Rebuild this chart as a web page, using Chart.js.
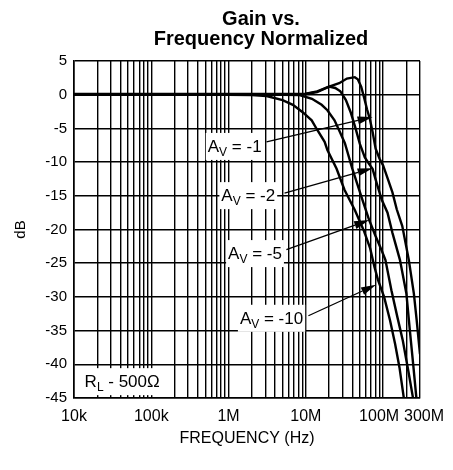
<!DOCTYPE html>
<html>
<head>
<meta charset="utf-8">
<script src="https://cdn.jsdelivr.net/npm/chart.js@4.4.1/dist/chart.umd.min.js"></script>
<style>
  html, body { margin: 0; padding: 0; background: #fff; }
</style>
</head>
<body>
<canvas id="chart" width="453" height="470"></canvas>
<script>
// gain curves (Hz, dB)
const av1Freq = [1e4, 1e6, 5e6, 10e6, 14e6, 20e6, 27e6, 34e6, 43e6, 47e6, 52e6, 57e6, 62e6, 67e6, 73e6, 80e6, 90e6, 100e6, 115e6, 132e6, 150e6, 177e6, 215e6, 250e6, 272e6, 300e6];
const av1Db = [0.1, 0.1, 0.1, 0.15, 0.5, 1.2, 1.7, 2.4, 2.6, 2.3, 1.2, -0.5, -2.2, -3.5, -5.5, -8.0, -9.5, -10.5, -12.5, -14.5, -17.0, -19.5, -24.5, -29.5, -33.5, -38.5];

const av2Freq = [1e4, 1e6, 5e6, 10e6, 14e6, 20e6, 24e6, 28e6, 33e6, 38e6, 44e6, 50e6, 58e6, 66e6, 73e6, 82e6, 96e6, 114e6, 132e6, 165e6, 200e6, 222e6, 245e6, 272e6];
const av2Db = [0, 0, 0, 0.1, 0.4, 1.2, 1.0, 0.5, -0.8, -2.6, -5.0, -7.3, -9.3, -10.3, -11.0, -13.0, -15.6, -17.5, -20.5, -24.5, -29.5, -35.0, -40.0, -45.5];

const av5Freq = [1e4, 1e6, 5e6, 8.3e6, 12e6, 16e6, 19e6, 23.5e6, 27.5e6, 32e6, 40e6, 54e6, 66e6, 80e6, 95e6, 107e6, 128e6, 153e6, 180e6, 212e6, 248e6];
const av5Db = [0, 0, 0, -0.05, -0.6, -1.5, -2.3, -3.8, -5.5, -7.2, -11.0, -15.6, -18.6, -21.0, -23.0, -24.5, -29.0, -33.0, -36.5, -41.0, -45.5];

const av10Freq = [1e4, 1e6, 2e6, 3.1e6, 5e6, 6.8e6, 9.1e6, 11.9e6, 14e6, 17.5e6, 19e6, 25e6, 31.6e6, 43e6, 56e6, 68e6, 77e6, 86e6, 103e6, 123e6, 143e6, 163e6, 188e6];
const av10Db = [0, 0, -0.05, -0.2, -0.8, -1.5, -2.6, -3.8, -5.2, -7.0, -8.2, -11.0, -14.1, -17.1, -20.1, -22.8, -25.5, -27.5, -30.0, -33.5, -37.0, -40.5, -45.5];

// axis ticks (spaces nudge the two crowded labels apart, as in the original)
const xTickValues = [1e4, 1e5, 1e6, 1e7, 1e8, 3e8];
const xTickLabels = ["10k", "100k", "1M", "10M", "100M\u2002", "\u2002300M"];

// curve labels and arrows
const noteGain = ["-1", "-2", "-5", "-10"];
const noteFreq = [1.2e6, 1.8e6, 2.2e6, 3.6e6];
const noteDb = [-7.6, -14.9, -23.5, -33.1];
const arrowFromFreq = [3.1e6, 5.3e6, 5.6e6, 10.8e6];
const arrowFromDb = [-7.0, -14.6, -23.0, -32.8];
const arrowToFreq = [73e6, 73e6, 66e6, 81e6];
const arrowToDb = [-3.3, -10.9, -18.6, -28.2];

const FONT = "'Liberation Sans', Arial, sans-serif";

const toPoints = (fs, ds) => fs.map((f, i) => ({ x: f, y: ds[i] }));

// all 1..9 x 10^n grid positions
const logGrid = [];
for (let e = 4; e <= 8; e++) {
    for (let m = 1; m <= 9; m++) {
        const v = m * Math.pow(10, e);
        if (v <= 3e8) logGrid.push(v);
    }
}

function boxLabel(ctx, parts, cx, cy, pad) {
    let w = 0;
    parts.forEach((p) => {
        ctx.font = (p.sub ? "12px " : "17px ") + FONT;
        p.w = ctx.measureText(p.t).width;
        w += p.w;
    });
    ctx.fillStyle = "#fff";
    ctx.fillRect(cx - w / 2 - pad, cy - 13, w + pad * 2, 27);
    ctx.fillStyle = "#000";
    ctx.textBaseline = "alphabetic";
    ctx.textAlign = "left";
    let x0 = cx - w / 2;
    parts.forEach((p) => {
        ctx.font = (p.sub ? "12px " : "17px ") + FONT;
        ctx.fillText(p.t, x0, cy + (p.sub ? 10 : 6));
        x0 += p.w;
    });
}

function arrow(ctx, x1, y1, x2, y2) {
    const a = Math.atan2(y2 - y1, x2 - x1);
    const len = 15, half = 4;
    ctx.strokeStyle = "#000";
    ctx.lineWidth = 1.3;
    ctx.beginPath();
    ctx.moveTo(x1, y1);
    ctx.lineTo(x2 - len * Math.cos(a), y2 - len * Math.sin(a));
    ctx.stroke();
    ctx.fillStyle = "#000";
    ctx.beginPath();
    ctx.moveTo(x2, y2);
    ctx.lineTo(x2 - len * Math.cos(a) + half * Math.sin(a), y2 - len * Math.sin(a) - half * Math.cos(a));
    ctx.lineTo(x2 - len * Math.cos(a) - half * Math.sin(a), y2 - len * Math.sin(a) + half * Math.cos(a));
    ctx.closePath();
    ctx.fill();
}

const notesPlugin = {
    id: "notes",
    afterDatasetsDraw(chart) {
        const { ctx, scales: { x, y } } = chart;
        ctx.save();
        noteGain.forEach((g, i) => {
            boxLabel(ctx, [{ t: "A" }, { t: "V", sub: true }, { t: " = " + g }],
                x.getPixelForValue(noteFreq[i]), y.getPixelForValue(noteDb[i]), 2);
            arrow(ctx,
                x.getPixelForValue(arrowFromFreq[i]), y.getPixelForValue(arrowFromDb[i]),
                x.getPixelForValue(arrowToFreq[i]), y.getPixelForValue(arrowToDb[i]));
        });
        boxLabel(ctx, [{ t: "R" }, { t: "L", sub: true }, { t: " - 500\u03A9" }],
            x.getPixelForValue(4.2e4), y.getPixelForValue(-42.5), 4);

        ctx.fillStyle = "#000";
        ctx.textAlign = "center";
        ctx.textBaseline = "middle";
        ctx.font = "bold 20px " + FONT;
        ctx.fillText("Gain vs.", 261, 19);
        ctx.fillText("Frequency Normalized", 261, 39);
        ctx.restore();
    }
};

const lineStyle = { borderColor: "#000", borderWidth: 2.4, pointRadius: 0, fill: false, tension: 0 };

new Chart(document.getElementById("chart"), {
    type: "line",
    data: {
        datasets: [
            { label: "AV = -1", data: toPoints(av1Freq, av1Db), ...lineStyle },
            { label: "AV = -2", data: toPoints(av2Freq, av2Db), ...lineStyle },
            { label: "AV = -5", data: toPoints(av5Freq, av5Db), ...lineStyle },
            { label: "AV = -10", data: toPoints(av10Freq, av10Db), ...lineStyle },
        ],
    },
    options: {
        responsive: false,
        animation: false,
        layout: { padding: { top: 61, right: 32, left: 0, bottom: 0 } },
        plugins: {
            legend: { display: false },
            tooltip: { enabled: false },
        },
        scales: {
            x: {
                type: "logarithmic",
                min: 1e4,
                max: 3e8,
                afterBuildTicks: (scale) => {
                    scale.ticks = logGrid.map((v) => ({ value: v }));
                },
                afterFit: (scale) => { scale.height = 72; },
                ticks: {
                    autoSkip: false,
                    maxRotation: 0,
                    padding: 9,
                    color: "#000",
                    font: { family: FONT, size: 16 },
                    callback: (v) => {
                        const k = xTickValues.indexOf(v);
                        return k >= 0 ? xTickLabels[k] : "";
                    },
                },
                grid: { color: "#000", lineWidth: 1.4, drawTicks: false },
                border: { color: "#000", width: 1.6 },
                title: {
                    display: true,
                    text: "FREQUENCY (Hz)",
                    color: "#000",
                    font: { family: FONT, size: 16 },
                    padding: { top: 0, bottom: 22 },
                },
            },
            y: {
                min: -45,
                max: 5,
                afterFit: (scale) => { scale.width = 74; },
                ticks: {
                    stepSize: 5,
                    padding: 7,
                    color: "#000",
                    font: { family: FONT, size: 15 },
                },
                grid: { color: "#000", lineWidth: 1.6, drawTicks: false },
                border: { color: "#000", width: 1.6 },
                title: {
                    display: true,
                    text: "dB",
                    color: "#000",
                    font: { family: FONT, size: 15 },
                    padding: { top: 12, bottom: 0 },
                },
            },
        },
    },
    plugins: [notesPlugin],
});
</script>
</body>
</html>
